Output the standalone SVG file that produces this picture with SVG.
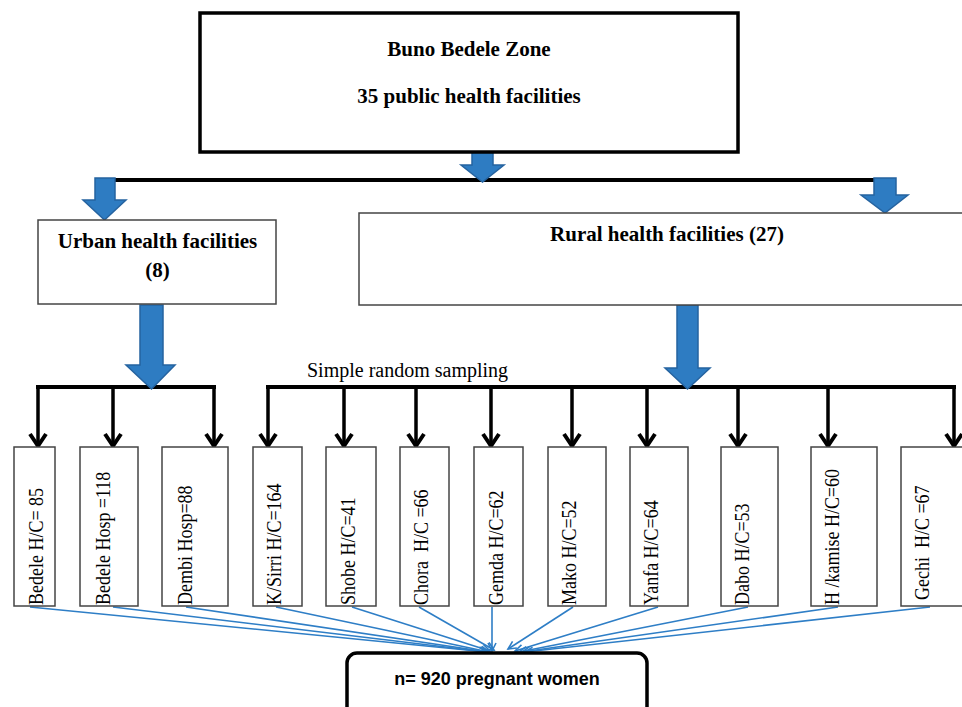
<svg xmlns="http://www.w3.org/2000/svg" width="962" height="707" viewBox="0 0 962 707">
<defs>
<style>
.serifB{font-family:"Liberation Serif","Times New Roman",serif;font-weight:bold;font-size:21px;fill:#000;text-anchor:middle}
.vt{font-family:"Liberation Serif","Times New Roman",serif;font-size:18px;fill:#000;white-space:pre}
.box{fill:#fff;stroke:#444;stroke-width:1.5}
.barrow{fill:#2E7CC2;stroke:#2563A0;stroke-width:1.5}
.blk{stroke:#000;stroke-width:4;fill:none}
.drop{stroke:#000;stroke-width:3.5;fill:none;marker-end:url(#chev)}
.blue{stroke:#2E7EC6;stroke-width:1.6;fill:none;marker-end:url(#bh)}
</style>
<marker id="chev" markerUnits="userSpaceOnUse" markerWidth="22" markerHeight="22" refX="15" refY="10" orient="auto" viewBox="0 0 22 22">
<path d="M3,2 L15,10 L3,18" fill="none" stroke="#000" stroke-width="4"/>
</marker>
<marker id="bh" markerUnits="userSpaceOnUse" markerWidth="12" markerHeight="12" refX="9" refY="5" orient="auto" viewBox="0 0 12 10">
<path d="M1,1 L9,5 L1,9" fill="none" stroke="#2E7EC6" stroke-width="1.6"/>
</marker>
</defs>
<rect width="962" height="707" fill="#fff"/>

<g id="connectors">
<line class="blk" x1="113" y1="180" x2="884" y2="180"/>
<path class="barrow" d="M472,152 H493 V165 H504 L482.5,182 L461,165 H472 Z"/>
<path class="barrow" d="M95,178 H115 V200 H126 L104.5,220 L83,200 H95 Z"/>
<path class="barrow" d="M874,178 H896 V195 H908 L885,213 L861,195 H874 Z"/>
<line class="blk" x1="36" y1="387" x2="216" y2="387" stroke-width="3.5"/>
<line class="blk" x1="266" y1="387" x2="956" y2="387" stroke-width="3.5"/>
<path class="barrow" d="M140,305 H163 V365 H175 L151.5,389 L126,365 H140 Z"/>
<path class="barrow" d="M677,305 H698 V368 H710 L687.5,389 L665,368 H677 Z"/>
<line class="drop" x1="38" y1="387" x2="38" y2="446"/>
<line class="drop" x1="113" y1="387" x2="113" y2="446"/>
<line class="drop" x1="214" y1="387" x2="214" y2="446"/>
<line class="drop" x1="268" y1="387" x2="268" y2="446"/>
<line class="drop" x1="344" y1="387" x2="344" y2="446"/>
<line class="drop" x1="416" y1="387" x2="416" y2="446"/>
<line class="drop" x1="491" y1="387" x2="491" y2="446"/>
<line class="drop" x1="572" y1="387" x2="572" y2="446"/>
<line class="drop" x1="647" y1="387" x2="647" y2="446"/>
<line class="drop" x1="738" y1="387" x2="738" y2="446"/>
<line class="drop" x1="828" y1="387" x2="828" y2="446"/>
<line class="drop" x1="954" y1="387" x2="954" y2="446"/>
<line class="blue" x1="30" y1="607" x2="487" y2="652"/>
<line class="blue" x1="113" y1="607" x2="487" y2="652"/>
<line class="blue" x1="186" y1="607" x2="488" y2="652"/>
<line class="blue" x1="276" y1="607" x2="489" y2="652"/>
<line class="blue" x1="352" y1="607" x2="490" y2="651"/>
<line class="blue" x1="419" y1="607" x2="494" y2="650"/>
<line class="blue" x1="492" y1="607" x2="492" y2="651"/>
<line class="blue" x1="573" y1="607" x2="508" y2="649"/>
<line class="blue" x1="658" y1="607" x2="515" y2="651"/>
<line class="blue" x1="748" y1="607" x2="519" y2="652"/>
<line class="blue" x1="838" y1="607" x2="522" y2="652"/>
<line class="blue" x1="930" y1="607" x2="525" y2="652"/>
</g>

<g id="zone">
<rect x="200" y="13" width="538" height="139" fill="#fff" stroke="#000" stroke-width="3.5"/>
<text class="serifB" x="469" y="56">Buno Bedele Zone</text>
<text class="serifB" x="469" y="103">35 public health facilities</text>
</g>

<g id="urban">
<rect class="box" x="38" y="220" width="238" height="84"/>
<text class="serifB" x="157.5" y="248">Urban health facilities</text>
<text class="serifB" x="157.5" y="277">(8)</text>
</g>

<g id="rural">
<rect class="box" x="359" y="213" width="610" height="92"/>
<text class="serifB" x="667" y="241">Rural health facilities (27)</text>
</g>

<g id="srs-label">
<text x="307" y="377" font-family="Liberation Serif, Times New Roman, serif" font-size="20">Simple random sampling</text>
</g>

<g id="f1"><rect class="box" x="14" y="447" width="41" height="159"/><text class="vt" transform="translate(43,605) rotate(-90) scale(1,1.15)">Bedele H/C= 85</text></g>
<g id="f2"><rect class="box" x="80" y="447" width="58" height="159"/><text class="vt" transform="translate(110,605) rotate(-90) scale(1,1.15)">Bedele Hosp =118</text></g>
<g id="f3"><rect class="box" x="162" y="447" width="66" height="159"/><text class="vt" transform="translate(192,605) rotate(-90) scale(1,1.15)">Dembi Hosp=88</text></g>
<g id="f4"><rect class="box" x="253" y="447" width="49" height="159"/><text class="vt" transform="translate(281,605) rotate(-90) scale(1,1.15)">K/Sirri H/C=164</text></g>
<g id="f5"><rect class="box" x="326" y="447" width="50" height="159"/><text class="vt" transform="translate(355,605) rotate(-90) scale(1,1.15)">Shobe H/C=41</text></g>
<g id="f6"><rect class="box" x="400" y="447" width="49" height="159"/><text class="vt" transform="translate(428,605) rotate(-90) scale(1,1.15)">Chora  H/C =66</text></g>
<g id="f7"><rect class="box" x="474" y="447" width="49" height="159"/><text class="vt" transform="translate(503,605) rotate(-90) scale(1,1.15)">Gemda H/C=62</text></g>
<g id="f8"><rect class="box" x="548" y="447" width="58" height="159"/><text class="vt" transform="translate(576,605) rotate(-90) scale(1,1.15)">Mako H/C=52</text></g>
<g id="f9"><rect class="box" x="630" y="447" width="58" height="159"/><text class="vt" transform="translate(658,605) rotate(-90) scale(1,1.15)">Yanfa H/C=64</text></g>
<g id="f10"><rect class="box" x="721" y="447" width="57" height="159"/><text class="vt" transform="translate(749,605) rotate(-90) scale(1,1.15)">Dabo H/C=53</text></g>
<g id="f11"><rect class="box" x="811" y="447" width="66" height="159"/><text class="vt" transform="translate(839,605) rotate(-90) scale(1,1.15)">H /kamise H/C=60</text></g>
<g id="f12"><rect class="box" x="901" y="447" width="66" height="159"/><text class="vt" transform="translate(929,600) rotate(-90) scale(1,1.15)">Gechi  H/C =67</text></g>

<g id="sample">
<rect x="347" y="653" width="300" height="70" rx="10" ry="10" fill="#fff" stroke="#000" stroke-width="3.5"/>
<text x="497" y="685" font-family="Liberation Sans, Arial, sans-serif" font-weight="bold" font-size="18" text-anchor="middle">n= 920 pregnant women</text>
</g>
</svg>
